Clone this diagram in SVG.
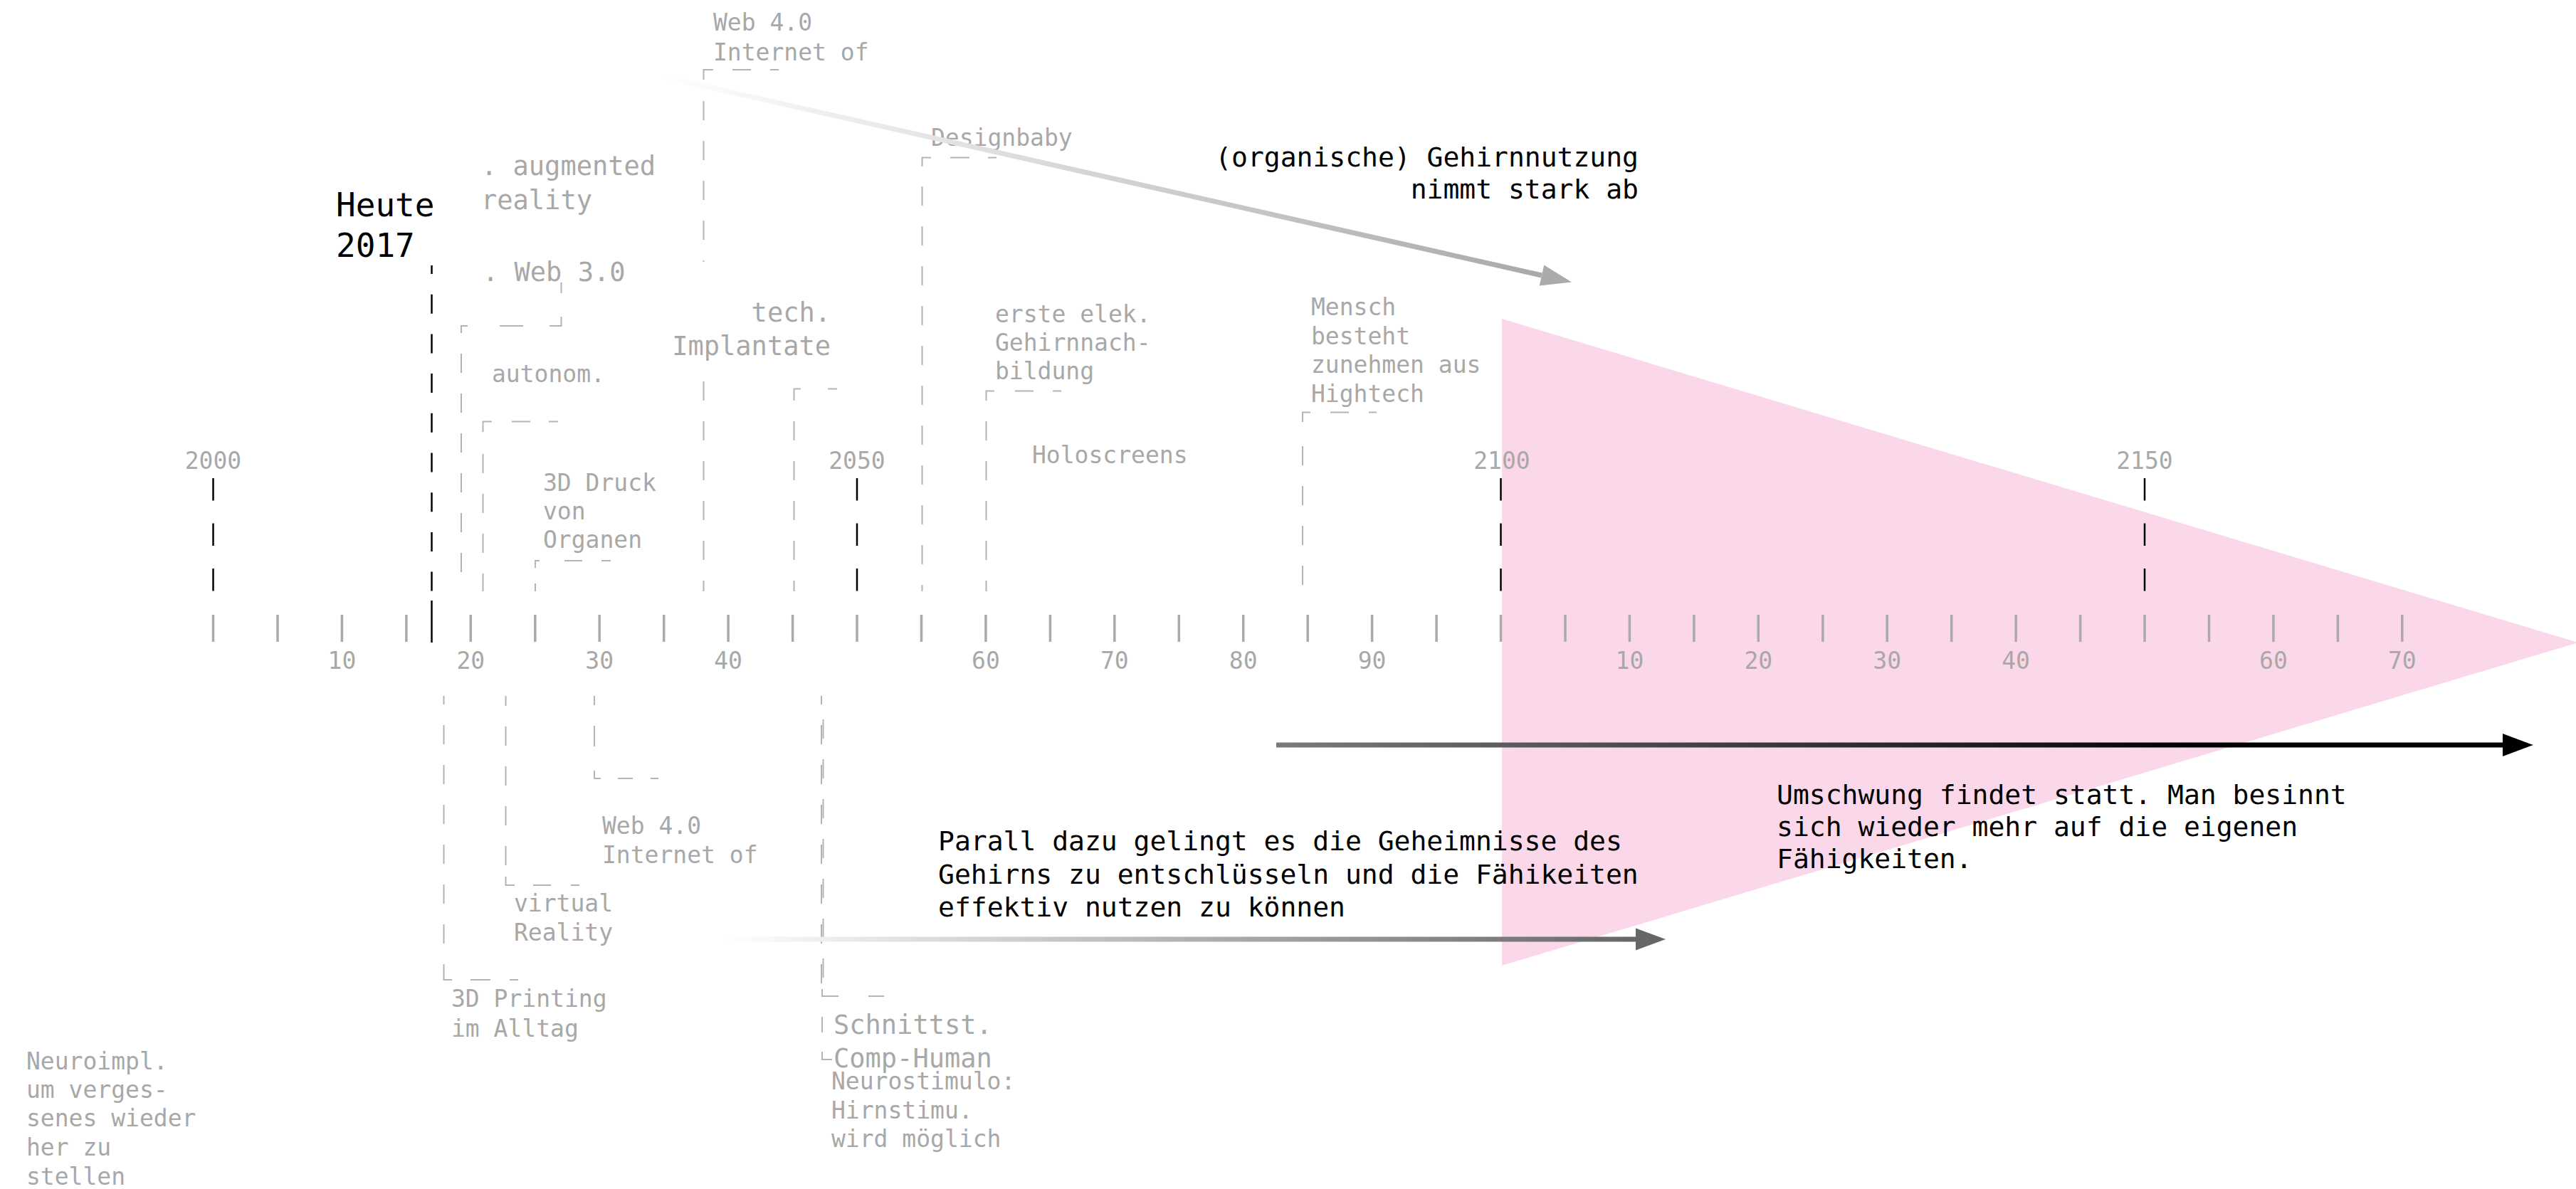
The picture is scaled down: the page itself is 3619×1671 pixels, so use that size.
<svg xmlns="http://www.w3.org/2000/svg" width="3619" height="1671" viewBox="0 0 3619 1671">
  <style>
    text { font-family: "DejaVu Sans Mono", "Liberation Mono", monospace; }
    .g { fill: #a8a8a8; font-size: 33px; }
    .gl { fill: #a8a8a8; font-size: 37px; }
    .k { fill: #000; font-size: 38px; }
    .c { text-anchor: middle; }
    .e { text-anchor: end; }
    .br { fill: none; stroke: #b4b4b4; stroke-width: 2; stroke-dasharray: 27 29; }
    .bs { fill: none; stroke: #b4b4b4; stroke-width: 2; }
    .yr { fill: none; stroke: #000; stroke-width: 2.5; stroke-dasharray: 31.5 32; }
    .tick { fill: none; stroke: #aaaaaa; stroke-width: 3.5; }
  </style>
  <defs>
    <linearGradient id="gradTop" gradientUnits="userSpaceOnUse" x1="927" y1="107" x2="2166" y2="387">
      <stop offset="0" stop-color="#ffffff"/>
      <stop offset="1" stop-color="#a9a9a9"/>
    </linearGradient>
    <linearGradient id="gradLow" gradientUnits="userSpaceOnUse" x1="1015" y1="1320" x2="2298" y2="1320">
      <stop offset="0" stop-color="#ffffff"/>
      <stop offset="1" stop-color="#666666"/>
    </linearGradient>
    <linearGradient id="gradBlack" gradientUnits="userSpaceOnUse" x1="1793" y1="1047" x2="3516" y2="1047">
      <stop offset="0" stop-color="#7a7a7a"/>
      <stop offset="0.75" stop-color="#000000"/>
      <stop offset="1" stop-color="#000000"/>
    </linearGradient>
  </defs>

  <rect width="3619" height="1671" fill="#ffffff"/>

  <!-- pink wedge behind the future part of the timeline -->
  <polygon id="wedge" points="2110,448 3622,903 2110,1357" fill="#fad8e9"/>

  <!-- timeline axis -->
  <g id="axis">
    <path class="tick" d="M299.5 864V902M390 864V902M480.4 864V902M570.9 864V902M661.3 864V902M751.8 864V902M842.2 864V902M932.7 864V902M1023.1 864V902M1113.6 864V902M1204 864V902M1294.5 864V902M1384.9 864V902M1475.4 864V902M1565.8 864V902M1656.3 864V902M1746.7 864V902M1837.2 864V902M1927.6 864V902M2018.1 864V902M2108.5 864V902M2199 864V902M2289.4 864V902M2379.9 864V902M2470.3 864V902M2560.8 864V902M2651.2 864V902M2741.7 864V902M2832.1 864V902M2922.6 864V902M3013 864V902M3103.5 864V902M3193.9 864V902M3284.4 864V902M3374.8 864V902"/>
    <g class="g c">
      <text x="480.4" y="940">10</text>
      <text x="661.3" y="940">20</text>
      <text x="842.2" y="940">30</text>
      <text x="1023.1" y="940">40</text>
      <text x="1384.9" y="940">60</text>
      <text x="1565.8" y="940">70</text>
      <text x="1746.7" y="940">80</text>
      <text x="1927.6" y="940">90</text>
      <text x="2289.4" y="940">10</text>
      <text x="2470.3" y="940">20</text>
      <text x="2651.2" y="940">30</text>
      <text x="2832.1" y="940">40</text>
      <text x="3193.9" y="940">60</text>
      <text x="3374.8" y="940">70</text>
    </g>
  </g>

  <!-- century / half-century markers -->
  <g id="year-2000"><text class="g c" x="299.5" y="659">2000</text><path class="yr" d="M299.5 672V831"/></g>
  <g id="year-2050"><text class="g c" x="1204" y="659">2050</text><path class="yr" d="M1204 672V831"/></g>
  <g id="year-2100"><text class="g c" x="2110" y="659">2100</text><path class="yr" d="M2108.5 672V831"/></g>
  <g id="year-2150"><text class="g c" x="3013" y="659">2150</text><path class="yr" d="M3013 672V831"/></g>

  <!-- today marker -->
  <g id="heute">
    <text x="472" y="304" font-size="46" fill="#000"><tspan x="472" y="304">Heute</tspan><tspan x="472" y="361">2017</tspan></text>
    <path d="M606.5 373V831" fill="none" stroke="#000" stroke-width="2.5" stroke-dasharray="27 28.7" stroke-dashoffset="15"/>
    <path d="M606.5 844V903" fill="none" stroke="#000" stroke-width="2.5"/>
  </g>

  <!-- events above the axis: label plus bracket down to the axis -->
  <g id="web40-top">
    <text class="g"><tspan x="1002" y="43">Web 4.0</tspan><tspan x="1002" y="85">Internet of</tspan></text>
    <path class="bs" d="M1002 98H988.5V112M1029 98H1055M1082 98H1094"/>
    <path class="br" d="M988.5 142V368M988.5 536V831"/>
  </g>

  <g id="augmented">
    <text class="gl"><tspan x="676" y="246">. augmented</tspan><tspan x="676" y="294">reality</tspan></text>
  </g>

  <g id="web30">
    <text class="gl" x="678" y="395">. Web 3.0</text>
    <path class="bs" d="M788.5 397V412M788.5 445V458H772M735 458H702M657 458H648V468"/>
    <path class="br" stroke-dasharray="27.5 27" d="M648 497V831"/>
  </g>

  <g id="autonom">
    <text class="g" x="691" y="537">autonom.</text>
    <path class="bs" d="M784 592.5H771M745 592.5H719M691 592.5H678.5V607"/>
    <path class="br" stroke-dasharray="28 30" d="M678.5 638V831"/>
  </g>

  <g id="druck">
    <text class="g"><tspan x="763" y="690">3D Druck</tspan><tspan x="763" y="730">von</tspan><tspan x="763" y="770">Organen</tspan></text>
    <path class="bs" d="M758 788H752V798M752 820V831M793 788H818M845 788H858"/>
  </g>

  <g id="implantate">
    <text class="gl e"><tspan x="1167" y="452">tech.</tspan><tspan x="1167" y="499">Implantate</tspan></text>
    <path class="bs" d="M1125 546.5H1115.5V563M1163 546.5H1176"/>
    <path class="br" d="M1115.5 592V831"/>
  </g>

  <g id="designbaby">
    <text class="g" x="1308" y="205">Designbaby</text>
    <path class="bs" d="M1308 221.5H1295.5V234M1335 221.5H1362M1388 221.5H1400"/>
    <path class="br" d="M1295.5 262V831"/>
  </g>

  <g id="gehirnnachbildung">
    <text class="g"><tspan x="1398" y="453">erste elek.</tspan><tspan x="1398" y="493">Gehirnnach-</tspan><tspan x="1398" y="533">bildung</tspan></text>
    <path class="bs" d="M1397 549.5H1385.5V563M1426 549.5H1452M1479 549.5H1491"/>
    <path class="br" d="M1385.5 592V831"/>
  </g>

  <g id="holoscreens">
    <text class="g" x="1450" y="651">Holoscreens</text>
  </g>

  <g id="hightech">
    <text class="g"><tspan x="1842" y="443">Mensch</tspan><tspan x="1842" y="484">besteht</tspan><tspan x="1842" y="524">zunehmen aus</tspan><tspan x="1842" y="565">Hightech</tspan></text>
    <path class="bs" d="M1841 579.5H1830V593M1869 579.5H1895M1923 579.5H1934"/>
    <path class="br" stroke-dasharray="30 33" d="M1830 627V831"/>
  </g>

  <!-- events below the axis: bracket from the axis down to the label -->
  <g id="printing">
    <text class="g"><tspan x="634" y="1415">3D Printing</tspan><tspan x="634" y="1457">im Alltag</tspan></text>
    <path class="br" stroke-dasharray="28 29.5" stroke-dashoffset="15" d="M623.5 978V1366"/>
    <path class="bs" d="M623.5 1366V1377H635M661 1377H689M716 1377H728"/>
  </g>

  <g id="virtual">
    <text class="g"><tspan x="722" y="1281">virtual</tspan><tspan x="722" y="1322">Reality</tspan></text>
    <path class="br" stroke-dasharray="26 27.5" stroke-dashoffset="13" d="M710.5 978V1220"/>
    <path class="bs" d="M710.5 1232V1244H723M749 1244H774M802 1244H814"/>
  </g>

  <g id="web40-bottom">
    <text class="g"><tspan x="846" y="1172">Web 4.0</tspan><tspan x="846" y="1213">Internet of</tspan></text>
    <path class="bs" d="M835 978V991M835 1020V1049M835 1083V1094H844M868 1094H889M914 1094H925"/>
  </g>

  <g id="schnittstelle">
    <text class="gl"><tspan x="1171" y="1453">Schnittst.</tspan><tspan x="1171" y="1500">Comp-Human</tspan></text>
    <text class="g"><tspan x="1168" y="1531">Neurostimulo:</tspan><tspan x="1168" y="1572">Hirnstimu.</tspan><tspan x="1168" y="1612">wird möglich</tspan></text>
    <path class="br" stroke-dashoffset="15" d="M1154 978V1400"/>
    <path class="br" stroke-dashoffset="45" d="M1156.5 1000V1395"/>
    <path class="bs" d="M1155 1390V1400H1178M1220 1400H1242M1155 1429V1451M1155 1478V1489H1169"/>
  </g>

  <g id="neuroimplantat">
    <text class="g"><tspan x="37" y="1503">Neuroimpl.</tspan><tspan x="37" y="1543">um verges-</tspan><tspan x="37" y="1583">senes wieder</tspan><tspan x="37" y="1624">her zu</tspan><tspan x="37" y="1665">stellen</tspan></text>
  </g>

  <!-- trend statements -->
  <g id="gehirnnutzung">
    <text class="k e"><tspan x="2302" y="234">(organische) Gehirnnutzung</tspan><tspan x="2302" y="279">nimmt stark ab</tspan></text>
  </g>

  <g id="geheimnisse">
    <text class="k"><tspan x="1318" y="1195">Parall dazu gelingt es die Geheimnisse des</tspan><tspan x="1318" y="1242">Gehirns zu entschlüsseln und die Fähikeiten</tspan><tspan x="1318" y="1288">effektiv nutzen zu können</tspan></text>
  </g>

  <g id="umschwung">
    <text class="k"><tspan x="2496" y="1130">Umschwung findet statt. Man besinnt</tspan><tspan x="2496" y="1175">sich wieder mehr auf die eigenen</tspan><tspan x="2496" y="1220">Fähigkeiten.</tspan></text>
  </g>

  <!-- connectors -->
  <g id="connectors">
    <line x1="927" y1="107" x2="2166" y2="387" stroke="url(#gradTop)" stroke-width="7"/>
    <polygon points="2162.7,401.6 2208,396.5 2169.3,372.4" fill="#aaaaaa"/>

    <line x1="1015" y1="1320" x2="2299" y2="1320" stroke="url(#gradLow)" stroke-width="7"/>
    <polygon points="2298,1304.5 2340,1320 2298,1335.5" fill="#666666"/>

    <line x1="1793" y1="1047" x2="3517" y2="1047" stroke="url(#gradBlack)" stroke-width="7"/>
    <polygon points="3516,1031 3559,1047 3516,1063" fill="#000000"/>
  </g>
</svg>
